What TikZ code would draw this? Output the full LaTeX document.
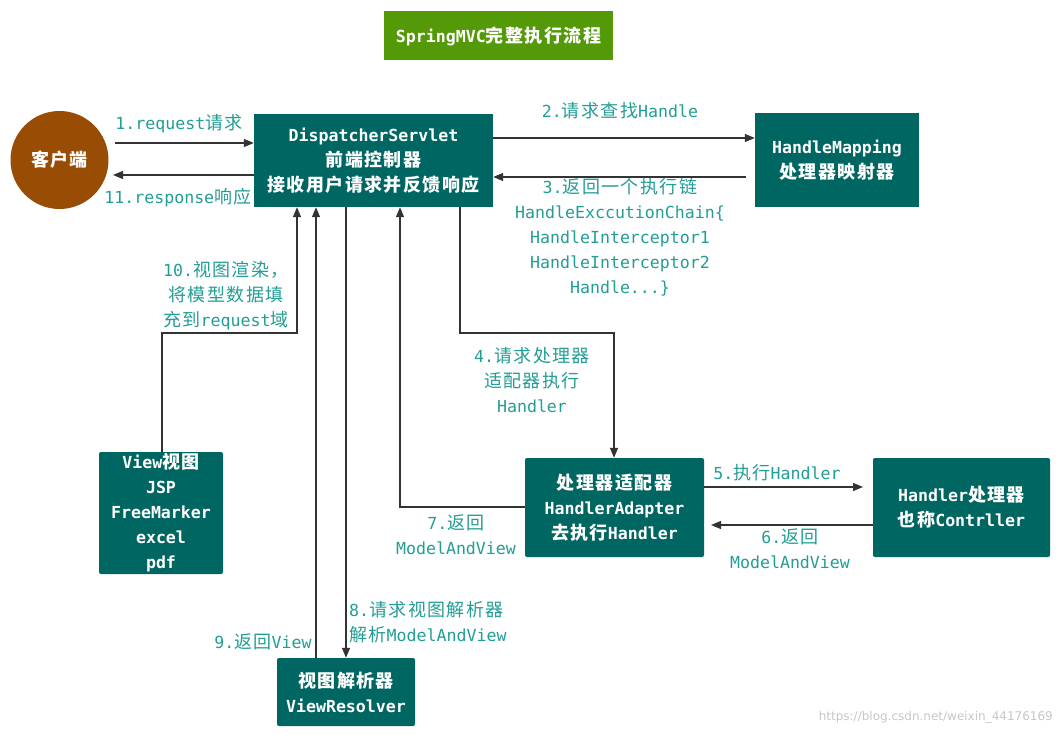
\documentclass[tikz,border=0pt]{standalone}
\usepackage{fontspec}
\setmainfont{DejaVu Sans Mono}
\newfontfamily\cjk{Noto Sans CJK SC}[LetterSpace=8]
\newfontfamily\wmfont{DejaVu Sans}
\usetikzlibrary{arrows.meta}
\definecolor{boxteal}{RGB}{0,102,98}
\definecolor{lbl}{RGB}{35,158,148}
\definecolor{ttlgreen}{RGB}{84,154,8}
\definecolor{clientbrown}{RGB}{153,76,4}
\definecolor{lineg}{RGB}{51,51,51}
\newcommand\zh[1]{{\cjk\fontsize{18}{25}\selectfont #1}}
\begin{document}
\begin{tikzpicture}[x=1pt,y=-1pt,
  box/.style={fill=boxteal,text=white,font=\fontsize{16.6}{25}\selectfont\bfseries,align=center,inner sep=0pt,rounded corners=2pt},
  lab/.style={text=lbl,font=\fontsize{16.6}{25}\selectfont,align=center,inner sep=0pt},
  conn/.style={draw=lineg,line width=1.2pt},
  arr/.style={conn,-{Triangle[length=10pt,width=8pt]}}]
\useasboundingbox (0,0) rectangle (1062,735);
\fill[white] (0,0) rectangle (1062,735);

% nodes
\node[box,rounded corners=0pt,fill=ttlgreen,minimum width=229pt,minimum height=49pt] (title) at (498.5,36) {SpringMVC\zh{完整执行流程}};
\node[circle,fill=clientbrown,text=white,minimum size=98pt,inner sep=0pt,font=\bfseries] (client) at (59.5,160) {\zh{客户端}};
\node[box,rounded corners=0pt,minimum width=239pt,minimum height=93pt] (disp) at (373.5,160.5) {DispatcherServlet\\\zh{前端控制器}\\\zh{接收用户请求并反馈响应}};
\node[box,rounded corners=0pt,minimum width=164pt,minimum height=94pt] (hm) at (837,160) {HandleMapping\\\zh{处理器映射器}};
\node[box,minimum width=179pt,minimum height=99pt] (ha) at (614.5,507.5) {\zh{处理器适配器}\\HandlerAdapter\\\zh{去执行}Handler};
\node[box,minimum width=177pt,minimum height=99pt] (hd) at (961.5,507.5) {Handler\zh{处理器}\\\zh{也称}Contrller};
\node[box,minimum width=124pt,minimum height=122pt] (view) at (161,513) {View\zh{视图}\\JSP\\FreeMarker\\excel\\pdf};
\node[box,minimum width=138pt,minimum height=68pt] (vr) at (346,692) {\zh{视图解析器}\\ViewResolver};

% free-end coordinates
\coordinate (c1) at (115,143);
\coordinate (c11) at (113,175);
\coordinate (c3) at (746,177);
\coordinate (c4a) at (460,333);
\coordinate (c4b) at (614,333);
\coordinate (c5) at (863,487);
\coordinate (c6) at (711,525);
\coordinate (c7) at (400,507);
\coordinate (c10a) at (162,333);
\coordinate (c10b) at (297,333);

% connectors
\draw[arr] (c1) -- (disp.west |- c1);
\draw[arr] (disp.west |- c11) -- (c11);
\draw[arr] (disp.east |- 0,138) -- (hm.west |- 0,138);
\draw[arr] (c3) -- (disp.east |- c3);
\draw[arr] (disp.south -| c4a) -- (c4a) -- (c4b) -- (ha.north -| c4b);
\draw[arr] (ha.east |- c5) -- (c5);
\draw[arr] (hd.west |- c6) -- (c6);
\draw[arr] (ha.west |- c7) -- (c7) -- (disp.south -| c7);
\draw[arr] (disp.south -| 346,0) -- (vr.north -| 346,0);
\draw[arr] (vr.north -| 316,0) -- (disp.south -| 316,0);
\draw[arr] (view.north -| c10a) -- (c10a) -- (c10b) -- (disp.south -| c10b);

% labels
\node[lab] (l1) at (179,124) {1.request\zh{请求}};
\node[lab] (l11) at (178,198) {11.response\zh{响应}};
\node[lab] (l2) at (620,111) {2.\zh{请求查找}Handle};
\node[lab] (l3) at (620,237) {3.\zh{返回一个执行链}\\HandleExccutionChain\{\\HandleInterceptor1\\HandleInterceptor2\\Handle...\}};
\node[lab] (l4) at (532,380) {4.\zh{请求处理器}\\\zh{适配器执行}\\Handler};
\node[lab] (l5) at (777,473) {5.\zh{执行}Handler};
\node[lab] (l6) at (790,549) {6.\zh{返回}\\ModelAndView};
\node[lab] (l7) at (456,535) {7.\zh{返回}\\ModelAndView};
\node[lab,align=left,anchor=west] (l8) at (349,622) {8.\zh{请求视图解析器}\\\zh{解析}ModelAndView};
\node[lab] (l9) at (263,642) {9.\zh{返回}View};
\node[lab] (l10) at (226,296) {10.\zh{视图渲染，}\\\zh{将模型数据填}\\\zh{充到}request\zh{域}};

% watermark
\node[text=black!22,font=\wmfont\fontsize{12}{14}\selectfont,anchor=east,inner sep=0pt] (wm) at (1053,717) {https://blog.csdn.net/weixin\_44176169};
\end{tikzpicture}
\end{document}
